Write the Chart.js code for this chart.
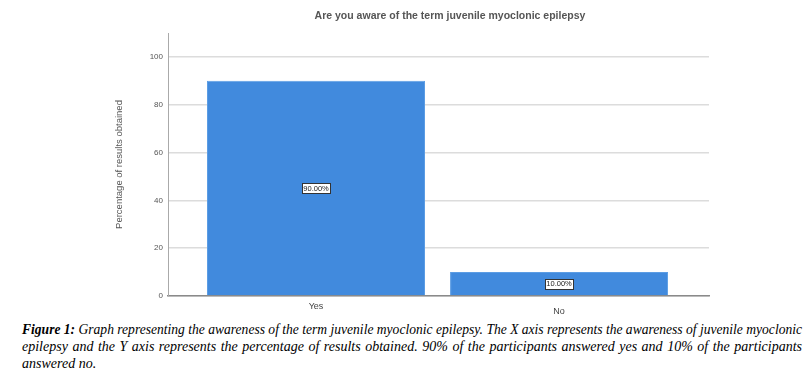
<!DOCTYPE html>
<html><head><meta charset="utf-8">
<script src="https://cdn.jsdelivr.net/npm/chart.js@4.4.0/dist/chart.umd.min.js"></script>
<style>
html,body{margin:0;padding:0;background:#fff;width:805px;height:370px;overflow:hidden;}
#wrap{position:relative;width:805px;height:370px;}
#c{position:absolute;left:0;top:0;}
#title{position:absolute;top:9px;left:250px;width:400px;text-align:center;font:bold 10.5px "Liberation Sans",Arial,sans-serif;color:#555;white-space:nowrap;}
#cap{position:absolute;left:22px;top:321px;width:780px;font:italic 14px/17px "Liberation Serif","Times New Roman",serif;color:#000;}
.ln{white-space:nowrap;display:block;height:17px;}
.ln span{display:inline-block;transform-origin:0 0;}
</style></head><body>
<div id="wrap">
<canvas id="c" width="805" height="320"></canvas>
<div id="title"></div>
<div id="cap">
<div class="ln j"><span><b>Figure 1:</b> Graph representing the awareness of the term juvenile myoclonic epilepsy. The X axis represents the awareness of juvenile myoclonic</span></div>
<div class="ln j"><span>epilepsy and the Y axis represents the percentage of results obtained. 90% of the participants answered yes and 10% of the participants</span></div>
<div class="ln"><span>answered no.</span></div>
</div>
</div>
<script>
const chartTitle = 'Are you aware of the term juvenile myoclonic epilepsy';
const yAxisTitle = 'Percentage of results obtained';
const categories = ['Yes', 'No'];
const percentValues = [90, 10];
const yTickValues = [0, 20, 40, 60, 80, 100];

document.getElementById('title').textContent = chartTitle;

const FONT = '"Liberation Sans", Arial, sans-serif';

const valueLabels = {
  id: 'valueLabels',
  afterDatasetsDraw(chart) {
    const ctx = chart.ctx;
    const meta = chart.getDatasetMeta(0);
    meta.data.forEach((bar, i) => {
      const txt = percentValues[i].toFixed(2) + '%';
      const cx = bar.x, cy = (bar.y + bar.base) / 2;
      ctx.save();
      ctx.font = '7.5px ' + FONT;
      const w = Math.round(ctx.measureText(txt).width + 3);
      const h = 10;
      const x0 = Math.round(cx - w / 2) + 0.5, y0 = Math.round(cy - h / 2) + 0.5;
      ctx.fillStyle = '#fff';
      ctx.fillRect(x0, y0, w, h);
      ctx.strokeStyle = '#333';
      ctx.lineWidth = 1;
      ctx.strokeRect(x0, y0, w, h);
      ctx.fillStyle = '#222';
      ctx.textAlign = 'center';
      ctx.textBaseline = 'middle';
      ctx.fillText(txt, cx, cy + 0.5);
      ctx.restore();
    });
  }
};

new Chart(document.getElementById('c'), {
  type: 'bar',
  data: {
    datasets: [{
      data: categories.map((c, i) => ({ x: i, y: percentValues[i] })),
      backgroundColor: '#418ADD',
      borderColor: '#5C9DE4',
      borderWidth: 1,
      categoryPercentage: 1,
      barPercentage: 0.897
    }]
  },
  options: {
    responsive: false,
    animation: false,
    devicePixelRatio: 1,
    layout: { padding: { left: 110, right: 96, top: 33, bottom: 0 } },
    plugins: { legend: { display: false }, tooltip: { enabled: false }, title: { display: false } },
    scales: {
      x: {
        type: 'linear', min: -0.609, max: 1.617, offset: false, bounds: 'data',
        afterBuildTicks: s => { s.ticks = categories.map((c, i) => ({ value: i })); },
        ticks: {
          callback: v => categories[v],
          font: c => ({ size: 9, family: FONT, lineHeight: c.index === 1 ? 2.3 : 1.2 }),
          color: '#444', padding: 5, autoSkip: false, maxRotation: 0
        },
        grid: { display: false, drawTicks: false, offset: false },
        border: { display: true, color: '#8a8a8a', width: 1.5 },
        afterFit: s => { s.height = 24; }
      },
      y: {
        min: 0, max: 110,
        afterBuildTicks: s => { s.ticks = yTickValues.map(v => ({ value: v })); },
        ticks: { font: { size: 8, family: FONT }, color: '#555', padding: 5 },
        grid: { color: '#dcdcdc', lineWidth: 1.5, drawTicks: false },
        border: { display: true, color: '#aaa', width: 1 },
        title: { display: true, text: yAxisTitle, font: { size: 9.5, family: FONT }, color: '#555', padding: { top: 4, bottom: 0 } },
        afterFit: s => { s.width = 58; }
      }
    }
  },
  plugins: [valueLabels]
});

document.querySelectorAll('#cap .ln.j span').forEach(sp => {
  const w = sp.getBoundingClientRect().width;
  const target = 780;
  if (w > target) {
    sp.style.transform = 'scaleX(' + (target / w) + ')';
  } else {
    const n = (sp.textContent.match(/ /g) || []).length;
    sp.style.wordSpacing = ((target - w) / n) + 'px';
  }
});
</script>
</body></html>
